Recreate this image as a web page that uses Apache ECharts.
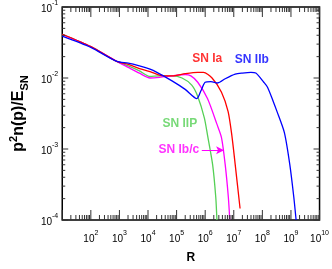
<!DOCTYPE html>
<html>
<head>
<meta charset="utf-8">
<script src="https://cdn.jsdelivr.net/npm/echarts@6/dist/echarts.min.js"></script>
<style>html,body{margin:0;padding:0;background:#fff}#c{width:332px;height:269px}</style>
</head>
<body>
<div id="c"></div>
<script>
// ---- data ----
var xMin = 10, xMax = 1e10, yMin = 1e-4, yMax = 1e-1;

var snIa = [[10,0.0413],[100,0.0277],[813,0.0171],[2042,0.0155],[5012,0.0136],[11750,0.0123],[25120,0.0110],[69180,0.0107],[199500,0.0115],[549500,0.0120],[871000,0.0120],[1.738e6,0.0100],[3.715e6,0.00631],[6.31e6,0.00339],[8.511e6,0.00158],[1.122e7,0.000603],[1.66e7,0.000145]];
var snIbc = [[10,0.0410],[100,0.0277],[813,0.0171],[2042,0.0141],[5012,0.0117],[11750,0.0100],[25120,0.0102],[69180,0.0107],[199500,0.0112],[316200,0.0107],[549500,0.00871],[1.202e6,0.00513],[2.57e6,0.00224],[3.715e6,0.00145],[5.012e6,0.000603],[6.457e6,0.000209],[7.244e6,0.0001]];
var snIIP = [[10,0.0413],[100,0.0277],[813,0.0171],[2042,0.0148],[5012,0.0126],[11750,0.0105],[25120,0.0107],[69180,0.0107],[154900,0.0100],[338800,0.00794],[549500,0.0055],[933300,0.00275],[1.202e6,0.00158],[1.82e6,0.000603],[2.344e6,0.000209],[2.57e6,0.0001]];
var snIIb = [[10,0.0389],[100,0.0270],[813,0.0171],[2042,0.0162],[5012,0.0148],[11750,0.0133],[20420,0.0120],[69180,0.00912],[199500,0.00692],[512900,0.00513],[707900,0.0066],[1e6,0.00871],[1.585e6,0.00891],[2.754e6,0.00851],[5.012e6,0.00977],[1.122e7,0.01135],[1.995e7,0.01175],[3.981e7,0.0120],[5.888e7,0.01175],[1.122e8,0.00871],[1.514e8,0.00741],[2.399e8,0.00468],[3.236e8,0.00339],[5.888e8,0.0017],[9.12e8,0.000603],[1.259e9,0.000209],[1.514e9,0.0001]];

var labelNames = ['SN Ia', 'SN IIb', 'SN IIP', 'SN Ib/c'];
var labelX = [1.17e6, 4.27e7, 1.3e5, 1.2e5];
var labelY = [0.0188, 0.0182, 0.00227, 0.00099];
var labelColors = ['#ff0000', '#0000ff', '#55d055', '#ff00ff'];
var arrowFrom = [7.59e5, 0.00096], arrowTo = [4.57e6, 0.00096];

var xDecades = [10,100,1e3,1e4,1e5,1e6,1e7,1e8,1e9,1e10];
var yDecades = [1e-4,1e-3,1e-2,1e-1];
var minorMultiples = [2,3,4,5,6,7,8,9];

// ---- tick tables ----
function buildTicks(decades, hi) {
  var out = [];
  decades.forEach(function (d) {
    out.push([d, 1]);
    minorMultiples.forEach(function (m) {
      if (d * m < hi) out.push([d * m, 0]);
    });
  });
  return out;
}
var xTicksB = buildTicks(xDecades, xMax).map(function (t) { return [t[0], yMin, t[1]]; });
var xTicksT = buildTicks(xDecades, xMax).map(function (t) { return [t[0], yMin, t[1]]; });
var yTicksL = buildTicks(yDecades, yMax).map(function (t) { return [xMin, t[0], t[1]]; });
var yTicksR = buildTicks(yDecades, yMax).map(function (t) { return [xMin, t[0], t[1]]; });

var chart = echarts.init(document.getElementById('c'));
var FONT = 'Liberation Sans, Arial, Helvetica, sans-serif';
var NARROW = 'Liberation Sans Narrow, Liberation Sans, Arial, sans-serif';

function expLabel(v) {
  var e = Math.round(Math.log10(v));
  return '{b|10}{s|' + e + '}';
}
var tickRich = {
  b: {fontSize: 10, fontFamily: NARROW, color: '#000', lineHeight: 14, verticalAlign: 'bottom'},
  s: {fontSize: 7, fontFamily: NARROW, color: '#000', lineHeight: 14, verticalAlign: 'top'}
};

// side: 'b','t','l','r'
function tickSeries(data, side) {
  return {
    type: 'custom', clip: false, z: 5,
    encode: {x: 0, y: 1},
    data: data,
    renderItem: function (params, api) {
      var major = api.value(2) === 1;
      var a, x1, y1, x2, y2, L;
      if (side === 'b' || side === 't') {
        a = api.coord([api.value(0), side === 'b' ? yMin : yMax]);
        L = major ? 10 : 5;
        x1 = a[0]; x2 = a[0]; y1 = a[1]; y2 = side === 'b' ? a[1] - L : a[1] + L;
      } else {
        a = api.coord([side === 'l' ? xMin : xMax, api.value(1)]);
        L = major ? 6 : 3;
        y1 = a[1]; y2 = a[1]; x1 = a[0]; x2 = side === 'l' ? a[0] + L : a[0] - L;
      }
      return {type: 'line', shape: {x1: x1, y1: y1, x2: x2, y2: y2},
        style: {stroke: '#333', lineWidth: 1}};
    }
  };
}

function curve(name, data, color) {
  return {name: name, type: 'line', data: data, showSymbol: false, symbol: 'none',
    smooth: 0.25, lineStyle: {color: color, width: 1.3}, z: 3};
}

var labelData = labelNames.map(function (n, i) {
  return {value: [labelX[i], labelY[i]], name: n,
    label: {show: true, formatter: n, color: labelColors[i], fontSize: 12, fontWeight: 'bold',
      fontFamily: FONT, position: 'inside', align: 'center', verticalAlign: 'middle'}};
});

var option = {
  animation: false,
  grid: {left: 50, right: 10, top: 5.5, bottom: 44, show: true, borderColor: '#000', borderWidth: 1.5},
  xAxis: {
    type: 'log', logBase: 10, min: xMin, max: xMax, interval: 1,
    name: 'R', nameLocation: 'middle', nameGap: 32,
    nameTextStyle: {fontSize: 12, fontWeight: 'bold', fontFamily: FONT, color: '#000'},
    axisLine: {show: false}, axisTick: {show: false}, splitLine: {show: false},
    axisLabel: {show: true, showMinLabel: false, margin: 10, formatter: expLabel, rich: tickRich}
  },
  yAxis: {
    type: 'log', logBase: 10, min: yMin, max: yMax, interval: 1,
    name: '{m|p}{sup|2}{m|n(p)/E}{sub|SN}', nameLocation: 'middle', nameGap: 30, nameRotate: 90,
    nameTextStyle: {
      rich: {
        m: {fontSize: 16, fontWeight: 'bold', fontFamily: FONT, color: '#000', lineHeight: 22, verticalAlign: 'middle'},
        sup: {fontSize: 11, fontWeight: 'bold', fontFamily: FONT, color: '#000', lineHeight: 22, verticalAlign: 'top'},
        sub: {fontSize: 11, fontWeight: 'bold', fontFamily: FONT, color: '#000', lineHeight: 22, verticalAlign: 'bottom'}
      }
    },
    axisLine: {show: false}, axisTick: {show: false}, splitLine: {show: false},
    axisLabel: {show: true, margin: 4, formatter: expLabel, rich: tickRich}
  },
  series: [
    tickSeries(xTicksB, 'b'),
    tickSeries(xTicksT, 't'),
    tickSeries(yTicksL, 'l'),
    tickSeries(yTicksR, 'r'),
    curve('SN IIP', snIIP, '#55d055'),
    curve('SN Ib/c', snIbc, '#ff00ff'),
    curve('SN Ia', snIa, '#ff0000'),
    curve('SN IIb', snIIb, '#0000ff'),
    {type: 'scatter', symbolSize: 0, data: labelData, silent: true, z: 6,
     markLine: {silent: true, symbol: ['none', 'arrow'], symbolSize: [6, 8],
       lineStyle: {color: '#ff00ff', width: 1, type: 'solid'}, label: {show: false},
       data: [[{coord: arrowFrom}, {coord: arrowTo}]]}}
  ]
};
chart.setOption(option);
</script>
</body>
</html>
